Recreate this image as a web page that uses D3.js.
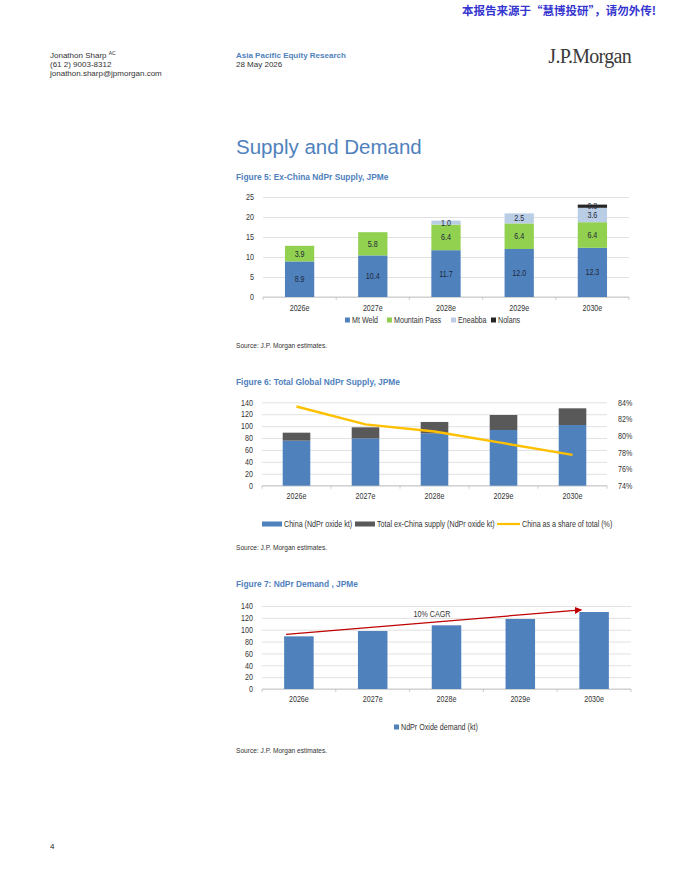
<!DOCTYPE html>
<html>
<head>
<meta charset="utf-8">
<script src="https://cdn.jsdelivr.net/npm/d3@7"></script>
<style>
  html, body { margin: 0; padding: 0; background: #fff; }
  svg { display: block; }
  text { font-family: "Liberation Sans", Arial, sans-serif; }
  .serif { font-family: "Liberation Serif", "Times New Roman", serif; }
  .cjk { font-family: "Noto Sans CJK SC", sans-serif; }
</style>
</head>
<body>
<svg id="page" width="680" height="880"></svg>
<script>
(function () {
  "use strict";

  // ---- data ----
  const years = ["2026e", "2027e", "2028e", "2029e", "2030e"];

  // Figure 5: ex-China supply by mine (kt)
  const mtWeld = [8.9, 10.4, 11.7, 12.0, 12.3];
  const mountainPass = [3.9, 5.8, 6.4, 6.4, 6.4];
  const eneabba = [0, 0, 1.0, 2.5, 3.6];
  const nolans = [0, 0, 0, 0, 0.8];
  const supplyTicks = [0, 5, 10, 15, 20, 25];

  // Figure 6: total global supply (kt) and China share
  const chinaSupply = [75.6, 79.5, 87.9, 93.5, 101.9];
  const exChinaSupply = [13.4, 18.5, 19.1, 25.2, 28.0];
  const chinaShare = [0.835, 0.8135, 0.805, 0.791, 0.777];
  const globalTicks = [0, 20, 40, 60, 80, 100, 120, 140];
  const shareTicks = [0.74, 0.76, 0.78, 0.80, 0.82, 0.84];

  // Figure 7: demand (kt)
  const demand = [88.8, 97.8, 107.4, 118.1, 129.9];
  const demandTicks = [0, 20, 40, 60, 80, 100, 120, 140];
  const cagrFrom = ["2026e", 92];
  const cagrTo = ["2030e", 133.5];

  const BLUE = "#4f81bd";
  const GREEN = "#92d050";
  const LIGHT = "#b9cde5";
  const BLACK = "#262626";
  const GREY = "#595959";
  const GOLD = "#ffc000";
  const TITLE = "#4f81bd";
  const TEXT = "#333";
  const NARROW = 0.83; // charts use a narrow sans; squeeze Liberation Sans to match

  const svg = d3.select("#page");

  // squeeze text horizontally around its own anchor point
  function narrow(sel) {
    sel.each(function () {
      const ax = +this.getAttribute("x") || 0;
      d3.select(this).attr("transform", `translate(${ax},0) scale(${NARROW},1) translate(${-ax},0)`);
    });
    return sel;
  }

  // ---- page furniture ----
  svg.append("text").attr("class", "cjk")
    .attr("x", 656).attr("y", 15).attr("text-anchor", "end")
    .attr("font-size", 11.5).attr("font-weight", 700).attr("fill", "#3535d0")
    .text("本报告来源于“慧博投研”，请勿外传!");

  const author = svg.append("text").attr("font-size", 8).attr("fill", TEXT);
  author.append("tspan").attr("x", 50).attr("y", 58).text("Jonathon Sharp ");
  author.append("tspan").attr("font-size", 5).attr("dy", -3).text("AC");
  svg.append("text").attr("x", 50).attr("y", 67).attr("font-size", 8).attr("fill", TEXT).text("(61 2) 9003-8312");
  svg.append("text").attr("x", 50).attr("y", 76).attr("font-size", 8).attr("fill", TEXT).text("jonathon.sharp@jpmorgan.com");

  svg.append("text").attr("x", 236).attr("y", 58).attr("font-size", 8).attr("font-weight", 700)
    .attr("fill", TITLE).text("Asia Pacific Equity Research");
  svg.append("text").attr("x", 236).attr("y", 67).attr("font-size", 8).attr("fill", TEXT).text("28 May 2026");

  svg.append("text").attr("class", "serif").attr("x", 631).attr("y", 63).attr("text-anchor", "end")
    .attr("font-size", 20).attr("fill", "#3a3a3a").attr("letter-spacing", -0.7).text("J.P.Morgan");

  svg.append("text").attr("x", 236).attr("y", 154).attr("font-size", 20.5)
    .attr("fill", TITLE).text("Supply and Demand");

  function figTitle(y, label) {
    svg.append("text").attr("x", 236).attr("y", y).attr("font-size", 8.4).attr("font-weight", 700)
      .attr("fill", TITLE).text(label);
  }
  function source(y) {
    svg.append("text").attr("x", 236).attr("y", y).attr("font-size", 6.6).attr("fill", TEXT)
      .text("Source: J.P. Morgan estimates.");
  }

  svg.append("text").attr("x", 50).attr("y", 849).attr("font-size", 8).attr("fill", "#222")
    .text("4");

  // shared helpers
  function bandScale(x0, x1) {
    return d3.scaleBand().domain(years).range([x0, x1]).paddingInner(0.6).paddingOuter(0.3);
  }

  function gridAndAxes(g, x, y, ticks, x0, x1) {
    g.append("g")
      .attr("transform", `translate(${x0},0)`)
      .call(d3.axisLeft(y).tickValues(ticks).tickSize(-(x1 - x0)).tickFormat(""))
      .call((s) => s.select(".domain").remove())
      .call((s) => s.selectAll("line").attr("stroke", "#d9d9d9").attr("stroke-width", 0.8));

    g.append("g")
      .attr("transform", `translate(${x0 - 6},0)`)
      .call(d3.axisLeft(y).tickValues(ticks).tickSize(0).tickFormat(d3.format("d")))
      .call((s) => s.select(".domain").remove())
      .call((s) => narrow(s.selectAll("text").attr("font-size", 8.6).attr("fill", TEXT)
        .style("font-family", null)));

    // baseline with tick marks at category boundaries
    const base = y(0);
    g.append("line").attr("x1", x0).attr("x2", x1).attr("y1", base).attr("y2", base)
      .attr("stroke", "#bfbfbf").attr("stroke-width", 0.8);
    const step = x.step();
    g.append("g").selectAll("line")
      .data(d3.range(years.length + 1))
      .join("line")
      .attr("x1", (i) => x0 + i * step).attr("x2", (i) => x0 + i * step)
      .attr("y1", base).attr("y2", base + 3)
      .attr("stroke", "#bfbfbf").attr("stroke-width", 0.8);
  }

  function categoryLabels(g, x, yPos) {
    narrow(g.append("g").selectAll("text")
      .data(years)
      .join("text")
      .attr("x", (d) => x(d) + x.bandwidth() / 2)
      .attr("y", yPos)
      .attr("text-anchor", "middle")
      .attr("font-size", 8.6).attr("fill", TEXT)
      .text((d) => d));
  }

  function legendItems(g, items, y) {
    items.forEach((it) => {
      if (it.type === "line") {
        g.append("line").attr("x1", it.x).attr("x2", it.x + it.w).attr("y1", y).attr("y2", y)
          .attr("stroke", it.color).attr("stroke-width", 2.2);
      } else {
        g.append("rect").attr("x", it.x).attr("y", y - it.h / 2).attr("width", it.w).attr("height", it.h)
          .attr("fill", it.color);
      }
      narrow(g.append("text").attr("x", it.x + it.w + 2).attr("y", y + 3)
        .attr("font-size", 8.6).attr("fill", TEXT).text(it.label));
    });
  }

  // ---- Figure 5 ----
  figTitle(180, "Figure 5: Ex-China NdPr Supply, JPMe");
  (function () {
    const x0 = 263, x1 = 629;
    const g = svg.append("g");
    const x = bandScale(x0, x1);
    const y = d3.scaleLinear().domain([0, 25]).range([297, 197]);
    gridAndAxes(g, x, y, supplyTicks, x0, x1);

    const keys = ["Mt Weld", "Mountain Pass", "Eneabba", "Nolans"];
    const colors = [BLUE, GREEN, LIGHT, BLACK];
    const rows = years.map((yr, i) => ({
      year: yr,
      "Mt Weld": mtWeld[i],
      "Mountain Pass": mountainPass[i],
      "Eneabba": eneabba[i],
      "Nolans": nolans[i]
    }));
    const stacked = d3.stack().keys(keys)(rows);

    const layer = g.append("g").selectAll("g")
      .data(stacked)
      .join("g")
      .attr("fill", (d, i) => colors[i]);
    layer.selectAll("rect")
      .data((d) => d)
      .join("rect")
      .attr("x", (d) => x(d.data.year))
      .attr("width", x.bandwidth())
      .attr("y", (d) => y(d[1]))
      .attr("height", (d) => y(d[0]) - y(d[1]));

    const labels = [];
    stacked.forEach((s) => s.forEach((d) => {
      const v = d[1] - d[0];
      if (v > 0) labels.push({ year: d.data.year, mid: (d[0] + d[1]) / 2, v });
    }));
    narrow(g.append("g").selectAll("text")
      .data(labels)
      .join("text")
      .attr("x", (d) => x(d.year) + x.bandwidth() / 2)
      .attr("y", (d) => y(d.mid) + 3)
      .attr("text-anchor", "middle")
      .attr("font-size", 8.6).attr("fill", "#1e2a3a")
      .text((d) => d3.format(".1f")(d.v)));

    categoryLabels(g, x, 311);
    legendItems(g, [
      { x: 345, w: 5, h: 5, color: BLUE, label: "Mt Weld" },
      { x: 387, w: 5, h: 5, color: GREEN, label: "Mountain Pass" },
      { x: 451, w: 5, h: 5, color: LIGHT, label: "Eneabba" },
      { x: 491, w: 5, h: 5, color: BLACK, label: "Nolans" }
    ], 320);
  })();
  source(348);

  // ---- Figure 6 ----
  figTitle(385, "Figure 6: Total Global NdPr Supply, JPMe");
  (function () {
    const x0 = 262, x1 = 607;
    const g = svg.append("g");
    const x = bandScale(x0, x1);
    const y = d3.scaleLinear().domain([0, 140]).range([485.7, 402.3]);
    const y2 = d3.scaleLinear().domain([0.74, 0.84]).range([485.7, 402.3]);
    gridAndAxes(g, x, y, globalTicks, x0, x1);

    g.append("g")
      .attr("transform", `translate(${x1 + 8},0)`)
      .call(d3.axisRight(y2).tickValues(shareTicks).tickSize(0).tickFormat(d3.format(".0%")))
      .call((s) => s.select(".domain").remove())
      .call((s) => narrow(s.selectAll("text").attr("font-size", 8.6).attr("fill", TEXT).style("font-family", null)));

    const rows = years.map((yr, i) => ({ year: yr, china: chinaSupply[i], ex: exChinaSupply[i] }));
    const stacked = d3.stack().keys(["china", "ex"])(rows);
    g.append("g").selectAll("g")
      .data(stacked)
      .join("g")
      .attr("fill", (d, i) => [BLUE, GREY][i])
      .selectAll("rect")
      .data((d) => d)
      .join("rect")
      .attr("x", (d) => x(d.data.year))
      .attr("width", x.bandwidth())
      .attr("y", (d) => y(d[1]))
      .attr("height", (d) => y(d[0]) - y(d[1]));

    const line = d3.line()
      .x((d, i) => x(years[i]) + x.bandwidth() / 2)
      .y((d) => y2(d));
    g.append("path").datum(chinaShare)
      .attr("d", line).attr("fill", "none")
      .attr("stroke", GOLD).attr("stroke-width", 2.4).attr("stroke-linejoin", "round");

    categoryLabels(g, x, 499);
    legendItems(g, [
      { x: 262, w: 20, h: 5, color: BLUE, label: "China (NdPr oxide kt)" },
      { x: 355, w: 20, h: 5, color: GREY, label: "Total ex-China supply (NdPr oxide kt)" },
      { x: 497, w: 23, type: "line", color: GOLD, label: "China as a share of total (%)" }
    ], 524);
  })();
  source(550);

  // ---- Figure 7 ----
  figTitle(587, "Figure 7: NdPr Demand , JPMe");
  (function () {
    const x0 = 262, x1 = 631;
    const g = svg.append("g");
    const x = bandScale(x0, x1);
    const y = d3.scaleLinear().domain([0, 140]).range([689, 606]);
    gridAndAxes(g, x, y, demandTicks, x0, x1);

    g.append("g").selectAll("rect")
      .data(demand)
      .join("rect")
      .attr("x", (d, i) => x(years[i]))
      .attr("width", x.bandwidth())
      .attr("y", (d) => y(d))
      .attr("height", (d) => y(0) - y(d))
      .attr("fill", BLUE);

    // CAGR arrow annotation
    svg.append("defs").append("marker")
      .attr("id", "arrowhead").attr("viewBox", "0 0 10 10")
      .attr("refX", 9).attr("refY", 5)
      .attr("markerWidth", 6).attr("markerHeight", 6)
      .attr("orient", "auto")
      .append("path").attr("d", "M0,0 L10,5 L0,10 z").attr("fill", "#c00000");
    const ax1 = x(cagrFrom[0]) + 2, ay1 = y(cagrFrom[1]);
    const ax2 = x(cagrTo[0]) + 2, ay2 = y(cagrTo[1]);
    g.append("line")
      .attr("x1", ax1).attr("y1", ay1).attr("x2", ax2).attr("y2", ay2)
      .attr("stroke", "#c00000").attr("stroke-width", 1.2)
      .attr("marker-end", "url(#arrowhead)");
    narrow(g.append("text").attr("x", 432).attr("y", 617).attr("text-anchor", "middle")
      .attr("font-size", 8.6).attr("fill", TEXT).text("10% CAGR"));

    categoryLabels(g, x, 702);
    legendItems(g, [
      { x: 394, w: 5, h: 5, color: BLUE, label: "NdPr Oxide demand (kt)" }
    ], 727);
  })();
  source(753);
})();
</script>
</body>
</html>
